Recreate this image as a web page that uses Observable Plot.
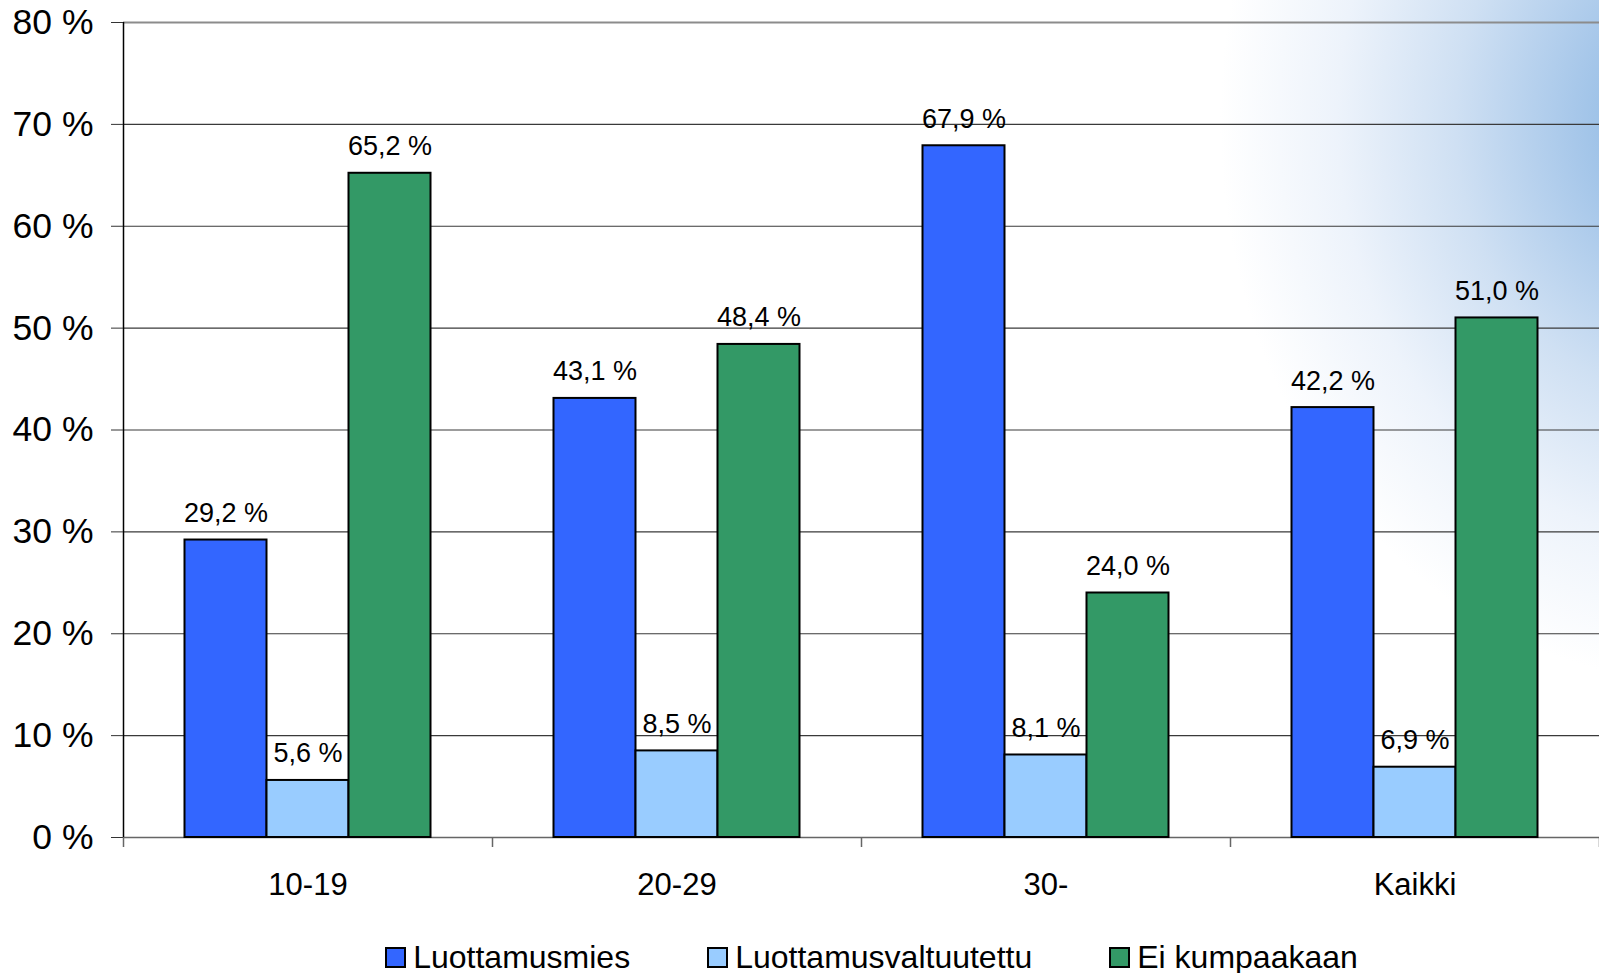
<!DOCTYPE html>
<html>
<head>
<meta charset="utf-8">
<script src="https://cdn.jsdelivr.net/npm/d3@7"></script>
<script src="https://cdn.jsdelivr.net/npm/@observablehq/plot@0.6"></script>
<style>
  html, body { margin: 0; padding: 0; }
  body {
    width: 1599px; height: 973px; overflow: hidden; position: relative;
    font-family: "Liberation Sans", Arial, sans-serif;
    background:
      radial-gradient(ellipse 470px 560px at 1690px 120px, #82b2e1 0%, #a8c8ea 25%, #cfe0f3 50%, #edf3fb 75%, rgba(255,255,255,0) 100%),
      #ffffff;
  }
  #chart { position: absolute; left: 0; top: 0; }
  #legend {
    position: absolute; left: 144px; top: 937px; width: 1455px;
    display: flex; justify-content: center; gap: 77px;
    font-size: 32px; color: #000; line-height: 40px;
  }
  .item { display: flex; align-items: center; gap: 7px; }
  .sw { width: 17px; height: 17px; border: 2px solid #000; }
</style>
</head>
<body>
<div id="chart"></div>
<div id="legend"></div>
<script>
const categories = ["10-19", "20-29", "30-", "Kaikki"];
const seriesNames = ["Luottamusmies", "Luottamusvaltuutettu", "Ei kumpaakaan"];
const luottamusmies = [29.2, 43.1, 67.9, 42.2];
const luottamusvaltuutettu = [5.6, 8.5, 8.1, 6.9];
const eiKumpaakaan = [65.2, 48.4, 24.0, 51.0];
const seriesColors = ["#3366ff", "#99ccff", "#339966"];
const yTicks = [0, 10, 20, 30, 40, 50, 60, 70, 80];

const seriesValues = [luottamusmies, luottamusvaltuutettu, eiKumpaakaan];
const rows = [];
categories.forEach((c, gi) => {
  seriesNames.forEach((s, si) => {
    rows.push({category: c, series: s, value: seriesValues[si][gi], gi, si});
  });
});

// Each category occupies one unit of x; the three bars fill the middle 2/3 of it.
const barW = 2 / 9;
const left = d => d.gi + 1 / 6 + d.si * barW;

const chart = Plot.plot({
  width: 1599,
  height: 910,
  marginTop: 22,
  marginBottom: 73,
  marginLeft: 123,
  marginRight: 0,
  style: {background: "transparent", fontFamily: "'Liberation Sans', Arial, sans-serif", color: "#000", overflow: "visible"},
  x: {type: "linear", domain: [0, categories.length]},
  y: {domain: [0, 80]},
  marks: [
    Plot.ruleY(yTicks.filter(v => v > 0 && v < 80), {stroke: "#3a3a3a", strokeWidth: 1.2}),
    Plot.ruleY([80], {stroke: "#8c8c8c", strokeWidth: 2}),
    Plot.ruleY([0], {stroke: "#666", strokeWidth: 1.5}),
    Plot.rect(rows, {
      x1: left,
      x2: d => left(d) + barW,
      y1: 0,
      y2: "value",
      fill: d => seriesColors[d.si],
      stroke: "#000",
      strokeWidth: 2
    }),
    Plot.text(rows, {
      x: d => left(d) + barW / 2,
      y: "value",
      text: d => d.value.toFixed(1).replace(".", ",") + " %",
      lineAnchor: "bottom",
      dy: -18,
      fontSize: 27,
      fill: "#000"
    }),
    Plot.ruleX([0], {stroke: "#000", strokeWidth: 1.5}),
    Plot.axisY({
      ticks: yTicks, tickFormat: d => d + " %", tickSize: 12, tickPadding: 18,
      fontSize: 35.5, label: null, stroke: "#333"
    }),
    Plot.axisX({
      ticks: d3.range(categories.length + 1), tickFormat: () => "", tickSize: 10,
      label: null, stroke: "#666", strokeWidth: 1.5
    }),
    Plot.axisX({
      ticks: categories.map((c, i) => i + 0.5), tickFormat: d => categories[Math.floor(d)],
      tickSize: 0, tickPadding: 35, fontSize: 31, label: null
    })
  ]
});
document.getElementById("chart").append(chart);

const legend = document.getElementById("legend");
seriesNames.forEach((s, i) => {
  const item = document.createElement("div");
  item.className = "item";
  const sw = document.createElement("div");
  sw.className = "sw";
  sw.style.background = seriesColors[i];
  const t = document.createElement("span");
  t.textContent = s;
  item.append(sw, t);
  legend.append(item);
});
</script>
</body>
</html>
